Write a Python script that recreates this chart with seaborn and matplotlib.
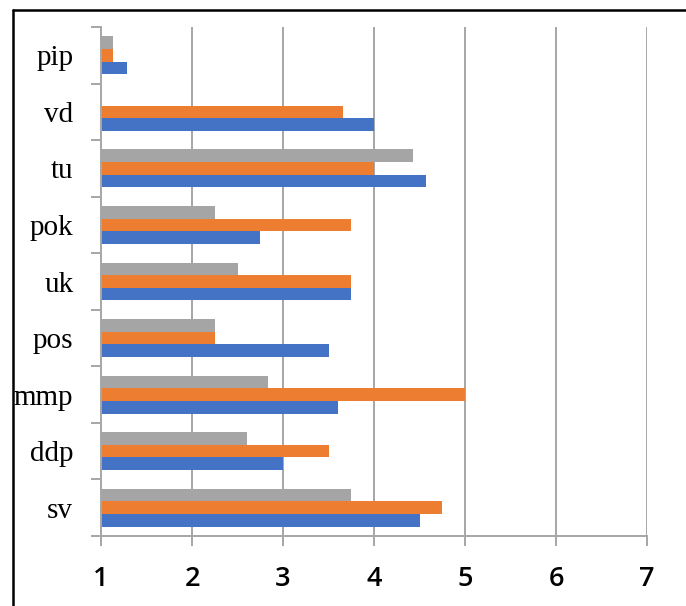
import numpy as np
import pandas as pd
import matplotlib
matplotlib.use("Agg")
import matplotlib.pyplot as plt
from matplotlib.lines import Line2D
import seaborn as sns

# categories, top to bottom as shown
categories = ["pip", "vd", "tu", "pok", "uk", "pos", "mmp", "ddp", "sv"]
# three series (blue = bottom bar, orange = middle, gray = top bar)
blue = [1.29, 4.0, 4.57, 2.75, 3.75, 3.5, 3.6, 3.0, 4.5]
orange = [1.13, 3.66, 4.0, 3.75, 3.75, 2.25, 5.0, 3.5, 4.75]
gray = [1.13, np.nan, 4.43, 2.25, 2.5, 2.25, 2.83, 2.6, 3.75]
xticks = [1, 2, 3, 4, 5, 6, 7]

df = pd.DataFrame({"cat": categories, "s1": blue, "s2": orange, "s3": gray})
long = df.melt(id_vars="cat", var_name="series", value_name="val").dropna()

sns.set_style("white")
fig = plt.figure(figsize=(6.86, 6.06), dpi=100)
ax = fig.add_axes([101 / 686, 70 / 606, 546 / 686, 509 / 606])

sns.barplot(data=long, y="cat", x="val", hue="series", order=categories,
            hue_order=["s3", "s2", "s1"],
            palette={"s1": "#4472C4", "s2": "#ED7D31", "s3": "#A5A5A5"},
            orient="h", width=0.67, linewidth=0, errorbar=None,
            saturation=1, ax=ax)
ax.legend_.remove()

ax.set_xlim(1, 7)
ax.set_xticks(xticks)
ax.set_xlabel("")
ax.set_ylabel("")

# vertical gridlines
for v in xticks[1:]:
    ax.axvline(v, color="#A6A6A6", lw=1.4, zorder=0)

for s in ["top", "right"]:
    ax.spines[s].set_visible(False)
for s in ["left", "bottom"]:
    ax.spines[s].set_color("#A6A6A6")
    ax.spines[s].set_linewidth(1.4)

# y ticks at category boundaries, labels at centres
n = len(categories)
ax.set_yticks(np.arange(n))
ax.set_yticklabels(categories, family="Liberation Serif", fontsize=21, color="black")
ax.set_yticks(np.arange(n + 1) - 0.5, minor=True)
ax.tick_params(axis="y", which="major", left=False, length=0, pad=20)
ax.tick_params(axis="y", which="minor", left=True, length=7, width=1.4, color="#A6A6A6")
ax.set_ylim(n - 0.5, -0.5)
ax.tick_params(axis="x", bottom=True, length=7, width=1.4, color="#A6A6A6", pad=14)
for t in ax.get_xticklabels():
    t.set_family("Open Sans")
    t.set_fontweight("semibold")
    t.set_fontsize(19.5)
    t.set_color("black")

# frame lines round the picture (top and left)
fig.add_artist(Line2D([13 / 686, 1], [1 - 10 / 606, 1 - 10 / 606], color="black", lw=1.8, transform=fig.transFigure))
fig.add_artist(Line2D([13 / 686, 13 / 686], [0, 1 - 10 / 606], color="black", lw=1.8, transform=fig.transFigure))

fig.savefig("out.png", dpi=100)
